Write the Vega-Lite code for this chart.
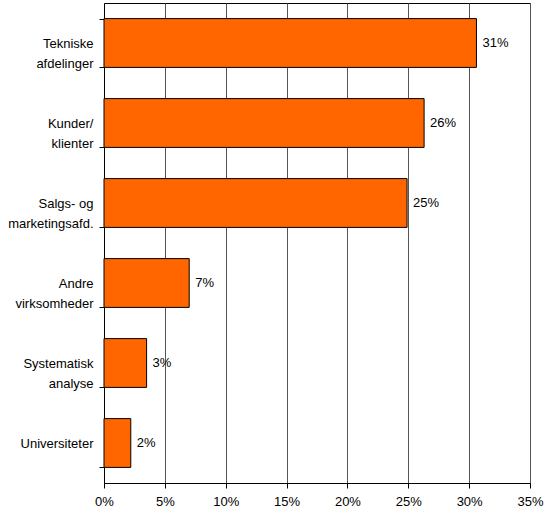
{
  "$schema": "https://vega.github.io/schema/vega-lite/v6.json",
  "autosize": "none",
  "width": 426,
  "height": 480,
  "padding": {"left": 104, "top": 3, "right": 15, "bottom": 27},
  "background": "white",
  "config": {
    "view": {"stroke": "black", "strokeWidth": 1},
    "font": "Liberation Sans"
  },
  "data": {
    "values": [
      {"cat": "Tekniske\nafdelinger", "value": 0.306, "label": "31%"},
      {"cat": "Kunder/\nklienter", "value": 0.263, "label": "26%"},
      {"cat": "Salgs- og\nmarketingsafd.", "value": 0.249, "label": "25%"},
      {"cat": "Andre\nvirksomheder", "value": 0.070, "label": "7%"},
      {"cat": "Systematisk\nanalyse", "value": 0.035, "label": "3%"},
      {"cat": "Universiteter", "value": 0.022, "label": "2%"}
    ]
  },
  "encoding": {
    "y": {
      "field": "cat", "type": "nominal", "sort": null,
      "scale": {"paddingInner": 0.39, "paddingOuter": 0.195},
      "axis": {
        "title": null, "domainColor": "black", "tickColor": "black", "tickSize": 5,
        "tickBand": "extent", "labelAlign": "right", "labelBaseline": "middle",
        "labelPadding": 6,
        "labelFontSize": 13, "labelColor": "black", "labelLineHeight": 20, "labelLimit": 200,
        "labelExpr": "split(datum.label, '\\n')", "grid": false
      }
    },
    "x": {
      "field": "value", "type": "quantitative",
      "scale": {"domain": [0, 0.35], "nice": false},
      "axis": {
        "title": null, "format": ".0%", "values": [0, 0.05, 0.1, 0.15, 0.2, 0.25, 0.3, 0.35],
        "grid": true, "gridColor": "#555555", "gridOpacity": 1, "gridWidth": 1,
        "domainColor": "black", "tickColor": "black", "tickSize": 5, "labelFlush": false,
        "labelFontSize": 13, "labelColor": "black", "labelPadding": 7
      }
    }
  },
  "layer": [
    {"mark": {"type": "bar", "fill": "#FF6600", "stroke": "black", "strokeWidth": 1}},
    {"mark": {"type": "text", "align": "left", "dx": 6, "fontSize": 13, "color": "black"},
     "encoding": {"text": {"field": "label"}}}
  ]
}
